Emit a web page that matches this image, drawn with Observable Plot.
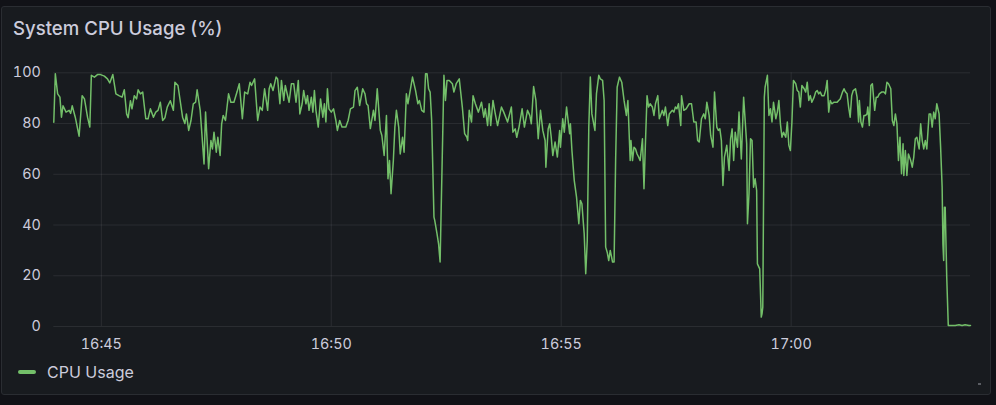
<!DOCTYPE html>
<html>
<head>
<meta charset="utf-8">
<script src="https://cdn.jsdelivr.net/npm/d3@7"></script>
<script src="https://cdn.jsdelivr.net/npm/@observablehq/plot@0.6"></script>
<style>
  html, body { margin: 0; padding: 0; width: 996px; height: 405px; overflow: hidden; background: #111217; font-family: Inter, "Noto Sans", sans-serif; }
  #panel { position: absolute; left: 1px; top: 6px; width: 988px; height: 387px; background: #181b1f; border: 1px solid #2a2d32; border-radius: 3px; }
  #title { position: absolute; left: 13px; top: 18.9px; font-size: 18.6px; line-height: 18.6px; font-weight: 500; color: #ccccdc; white-space: nowrap; }
  #chart { position: absolute; left: 0; top: 50px; }
  #legend { position: absolute; left: 18px; top: 363.7px; height: 16.2px; display: flex; align-items: center; }
  #legend .sw { width: 18px; height: 4px; border-radius: 2px; background: #73bf69; margin-right: 11px; }
  #legend .lb { font-size: 16px; line-height: 16.2px; color: #ccccdc; white-space: nowrap; }
  #handle { position: absolute; left: 978px; top: 383px; width: 3px; height: 2px; background: #5a5d63; }
</style>
</head>
<body>
<div id="panel"></div>
<div id="title">System CPU Usage (%)</div>
<div id="chart"></div>
<div id="legend"><div class="sw"></div><div class="lb">CPU Usage</div></div>
<div id="handle"></div>
<script>
// seconds after 16:44:00
const tSec = [
-2,0,3,6,8,10,14,18,20,22,26,31,35,38,42,45,47,51,55,59,64,68,71,75,79,83,87,90,93,95,98,100,103,106,108,111,114,118,121,124,128,131,134,137,140,143,146,150,
154,156,160,166,169,171,174,177,180,183,185,189,194,196,200,203,205,207,210,212,215,217,219,222,226,229,233,237,240,244,247,251,254,256,260,264,267,270,273,277,279,281,284,288,290,293,295,298,300,
305,308,311,314,317,319,322,324,327,329,331,334,336,338,340,343,346,349,351,353,355,357,360,363,366,368,371,374,379,382,385,389,391,394,397,401,404,406,408,411,415,417,420,424,426,429,432,434,436,438,441,443,445,448,450,
453,455,458,460,466,470,473,475,478,481,483,485,487,489,491,494,495,498,500,502,507,509,511,514,518,520,523,527,531,534,537,538,540,543,545,548,552,556,559,561,564,566,568,571,574,577,582,585,590,595,597,600,
602,605,609,612,616,619,621,624,627,630,633,636,639,640,643,645,647,649,652,655,658,659,662,664,667,669,671,672,674,677,680,683,685,687,690,692,694,696,698,700,704,706,709,711,714,716,718,720,722,724,727,729,731,733,736,739,742,745,747,
750,751,753,755,757,759,761,763,766,768,770,772,774,776,779,781,783,786,788,792,794,796,799,801,805,807,809,811,813,816,817,820,823,827,830,833,836,838,840,843,846,848,850,853,855,858,860,863,865,867,869,871,873,876,879,881,883,885,887,890,892,895,898,
902,903,905,907,909,911,913,915,916,919,921,922,923,925,926,929,931,933,935,937,940,942,944,946,948,950,953,955,957,959,961,963,966,968,970,972,974,977,979,981,983,985,987,990,992,994,996,998,1000,1003,1005,1007,1009,1011,1013,1016,1018,1020,1022,1024,1027,1029,1031,1033,1035,1037,1039,1041,1044,1046,1048,
1049,1051,1053,1055,1057,1059,1060,1062,1064,1066,1069,1071,1073,1075,1078,1081,1083,1085,1087,1090,1092,1094,1096,1098,1100,1102,1104,1106,1107,1109,1111,1113,1116,1118,1120,1122,1124,1127,1129,1131,1133,1135,1137,1140,1142,1144,1146,1148,1150,1153,1155,1157,1158,1159,1160,1161,1163,1165,1168,1174,1179,1183,1187,1192,1194
];
// CPU usage (%)
const cpu = [
80.5,99.6,91.7,90.4,82.5,87,84.5,85.2,84,87,82.5,75,91,89.7,82.5,78.6,99,98.3,99.3,99.3,98.7,97.6,96,99.3,91.7,91,90.4,93.3,83.8,82.3,89,85.8,91,89.7,93.3,91.7,92.4,81.9,81.9,85.8,82.5,84.5,85.2,88.4,81.2,82.3,86.5,89,
85.2,96.3,95,82.5,80,83.8,77.3,81.2,87.8,88.4,93.3,85.2,64.1,84.5,62.2,73.3,70,76.6,68.7,74.6,67.4,79.9,83.2,81.2,91.7,88.4,88.4,92.4,95.7,81.9,92.4,91.7,96.3,95,97.6,81.2,86.5,85.2,93.7,85.2,93.7,95.7,93,98.3,97.6,87.8,97,89.1,95,
88.4,95.7,95.7,88.4,97,83.8,87.8,93,87.8,91,85.2,90.4,84.5,93,85.2,78.6,89.7,82.5,87.8,80.6,93.7,85.8,84.5,85.8,81.2,77.3,81.2,78.6,78.6,81.2,85.8,86.5,93,94.3,87.1,93.7,91.7,87.8,87.1,78,85.2,81.2,93.7,77.3,75.3,67.4,83.2,58.2,65.4,52.3,65.4,78.6,85.2,78.6,68,
74.6,68.7,91.7,87.8,98.3,93,87.8,89.1,85.2,84.5,99.6,99.6,93.7,92.4,81.2,43.1,41.8,36.5,32.6,25.4,99,89.1,97,97,95.7,92.4,95.7,97.6,86.5,76,74.6,73.3,85.2,80.6,91,87.8,84.5,88.4,82.5,85.8,79.2,87.8,79.2,89.1,83.8,79.2,86.5,84.5,80.6,86.5,76.6,77.9,
74.6,78.6,85.8,78.6,85.2,83.2,79.9,94.6,89.1,74,85.2,77.3,73.3,62.8,77.9,79.9,74.6,67.4,72.7,66.8,77.3,70.7,81.9,76.6,86.5,81.2,76,79.9,69.4,57.6,51,40.5,49.7,48.4,36.5,20.8,33.9,78.6,98.3,83.8,77.3,91.7,99,97.6,97,89.1,31.3,29.3,26,30,25.4,25.4,65.4,94.3,98.3,96.3,89.1,83.2,89.1,
65.4,73.3,65.4,70.7,70,68,66.8,65.4,74,54.3,73.3,91,86.5,87.8,86.5,83.2,87.8,91,81.9,85.2,83.2,86.5,79.2,83.8,85.2,84.5,86.5,85.8,87.8,79.2,91,85.2,85.8,87.8,87.8,80.6,80.6,73.3,72.7,81.9,83.8,81.9,88.4,83.2,75.3,70.7,92.4,78.6,77.3,77.9,73.3,55.6,66.8,71.4,61.5,74,77.9,65.4,76.6,70.7,84.5,66,90.4,
72,40.5,52.3,74,73.3,54.9,58.2,53.6,24.7,22.7,3.7,5,7.6,90.4,94.3,99,83.2,85.8,80.6,88.4,81.9,84.5,89.1,79.9,74.6,76.6,74.6,80.6,71.4,69.4,80.6,97,95.7,93,92.4,86.5,95,93.7,92.4,96.3,89.1,91,88.4,90.4,92.4,93,91.7,92.4,91,91,93,97,84.5,89.1,87.8,88.4,88.4,88.4,89.1,89.7,92.4,93.7,92.4,91.7,86.5,82.5,91,93,93.7,90.4,80.6,
89.1,80.6,78.6,83.2,83.2,83.8,86.5,79.2,95,95.7,85.2,90.4,90.4,91.7,92.4,92.4,91.7,96.3,95.7,93.7,81.2,79.2,83.8,79.9,65.4,74.6,60.2,72,59.5,69.4,59.5,68,65.4,62.8,66.8,74,74.6,70,79.9,73.3,70,73.3,70,83.8,83.8,78.6,84.5,81.9,87.8,83.8,70.7,54.9,32.6,26,47,47,19.4,0.4,0.4,0.4,0.7,0.4,0.7,0.4,0.4
];
const yTicks = [0, 20, 40, 60, 80, 100];
const xTickLabels = ["16:45", "16:50", "16:55", "17:00"];
const seriesName = "CPU Usage";

const base = Date.UTC(2024, 0, 1, 16, 44, 0);
const toDate = s => new Date(base + s * 1000);
const data = tSec.map((s, i) => ({ t: toDate(s), v: cpu[i] }));
const xTicks = xTickLabels.map(l => { const [h, m] = l.split(":").map(Number); return new Date(Date.UTC(2024, 0, 1, h, m, 0)); });

const chart = Plot.plot({
  width: 996,
  height: 310,
  marginLeft: 53.3,
  marginRight: 26,
  marginTop: 22.3,
  marginBottom: 34,
  style: { background: "transparent", color: "#ccccdc", fontFamily: "Inter, 'Noto Sans', sans-serif", fontSize: "14.4px", overflow: "visible" },
  x: { type: "utc", domain: [data[0].t, data[data.length - 1].t], ticks: xTicks, tickFormat: d3.utcFormat("%H:%M"), tickSize: 0, tickPadding: 12, label: null },
  y: { domain: [0, 100], ticks: yTicks, tickSize: 0, tickPadding: 13, label: null },
  marks: [
    Plot.ruleY(yTicks, { stroke: "#ccccdc", strokeOpacity: 0.1 }),
    Plot.ruleX(xTicks, { stroke: "#ccccdc", strokeOpacity: 0.1 }),
    Plot.line(data, { x: "t", y: "v", stroke: "#73bf69", strokeWidth: 1.5, title: () => seriesName })
  ]
});
document.getElementById("chart").appendChild(chart);
</script>
</body>
</html>
